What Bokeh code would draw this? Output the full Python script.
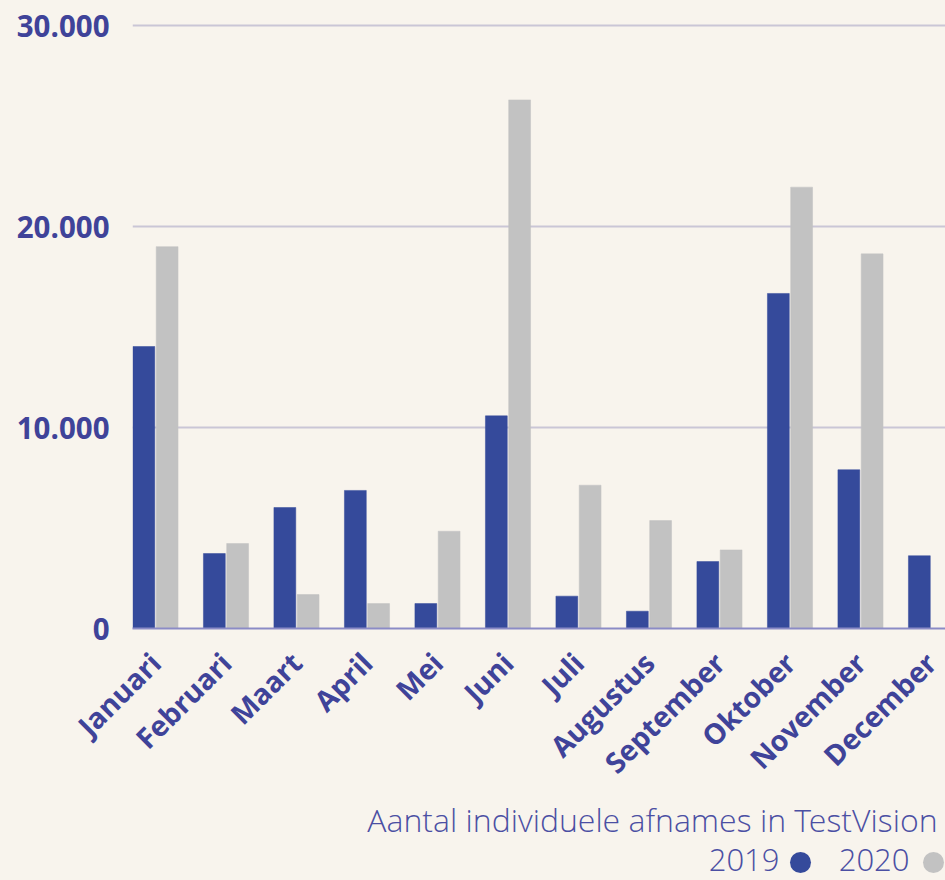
import math
from bokeh.plotting import figure
from bokeh.layouts import column
from bokeh.models import ColumnDataSource, Range1d, FixedTicker
from bokeh.transform import dodge
from bokeh.embed import file_html
from bokeh.resources import INLINE
from bokeh.core.properties import value

months = ["Januari", "Februari", "Maart", "April", "Mei", "Juni", "Juli",
          "Augustus", "September", "Oktober", "November", "December"]
y2019 = [14030, 3730, 6020, 6870, 1240, 10580, 1610, 860, 3330, 16670, 7900, 3620]
y2020 = [19000, 4230, 1690, 1240, 4840, 26300, 7130, 5370, 3910, 21960, 18640, 0]
ytick_values = [0, 10000, 20000, 30000]
ytick_labels = ["0", "10.000", "20.000", "30.000"]
title_text = "Aantal individuele afnames in TestVision"
legend_labels = ["2019", "2020"]

BG = "#f8f4ed"
BLUE = "#354a9b"
GREY = "#c2c2c2"
TEXT = "#3f4399"
TEXT_LIGHT = "#4b4fa3"

W = 945
H1 = 797
H2 = 83
FRAME_L, FRAME_T, FRAME_B = 132, 17, 628
PX_PER_CAT = 70.5
X0 = 0.174
X1 = X0 + (W - FRAME_L) / PX_PER_CAT
Y1 = 30400
BASELINE_FIX = 13  # text glyph baseline compensation (px)

xpos = [i + 0.5 for i in range(len(months))]
src = ColumnDataSource(dict(x=xpos, y2019=y2019, y2020=y2020))

p = figure(width=W, height=H1, output_backend="svg", toolbar_location=None,
           x_range=Range1d(X0, X1), y_range=Range1d(0, Y1),
           min_border_left=FRAME_L, min_border_right=0, min_border_top=FRAME_T,
           min_border_bottom=H1 - FRAME_B,
           background_fill_color=BG, border_fill_color=BG, outline_line_color=None)

p.vbar(x=dodge("x", -0.165, range=p.x_range), top="y2019", width=0.31, source=src,
       fill_color=BLUE, line_color=BLUE, line_width=0.5)
p.vbar(x=dodge("x", 0.165, range=p.x_range), top="y2020", width=0.31, source=src,
       fill_color=GREY, line_color=GREY, line_width=0.5)

p.xgrid.grid_line_color = None
p.ygrid.grid_line_color = "#cac6d6"
p.ygrid.grid_line_width = 2
p.ygrid.ticker = FixedTicker(ticks=ytick_values)

p.yaxis.ticker = FixedTicker(ticks=ytick_values)
p.yaxis.major_label_overrides = {v: l for v, l in zip(ytick_values, ytick_labels)}
p.yaxis.axis_line_color = None
p.yaxis.major_tick_line_color = None
p.yaxis.minor_tick_line_color = None
p.yaxis.major_tick_out = 0
p.yaxis.major_label_standoff = 23
p.yaxis.major_label_text_font = "Open Sans"
p.yaxis.major_label_text_font_style = "bold"
p.yaxis.major_label_text_font_size = "29.5px"
p.yaxis.major_label_text_color = TEXT

p.xaxis.ticker = FixedTicker(ticks=xpos)
p.xaxis.major_label_overrides = {x: m for x, m in zip(xpos, months)}
p.xaxis.axis_line_color = "#8b8bc6"
p.xaxis.axis_line_width = 2
p.xaxis.major_tick_line_color = None
p.xaxis.minor_tick_line_color = None
p.xaxis.major_label_orientation = math.pi / 4
p.xaxis.major_label_standoff = 23
p.xaxis.major_label_text_font = "Open Sans"
p.xaxis.major_label_text_font_style = "bold"
p.xaxis.major_label_text_font_size = "28.5px"
p.xaxis.major_label_text_color = TEXT

# caption / legend strip: frame aligned with the chart frame, page pixel coordinates
p2 = figure(width=W, height=H2, output_backend="svg", toolbar_location=None,
            x_range=Range1d(FRAME_L, W), y_range=Range1d(H1 + H2, H1),
            x_axis_location=None, y_axis_location=None,
            min_border_left=FRAME_L, min_border_right=0, min_border_top=0,
            min_border_bottom=0, background_fill_color=BG, border_fill_color=BG,
            outline_line_color=None)
p2.grid.visible = False

lab_font = value("Open Sans Light")
p2.text(x=[937], y=[832 - BASELINE_FIX], text=[title_text], text_align="right",
        text_baseline="alphabetic", text_font=lab_font, text_font_size="32px",
        text_color=TEXT_LIGHT)
p2.text(x=[779, 909], y=[872 - BASELINE_FIX] * 2, text=legend_labels, text_align="right",
        text_baseline="alphabetic", text_font=lab_font, text_font_size="31px",
        text_color=TEXT_LIGHT)
p2.scatter(x=[800, 933], y=[862, 862], size=21, marker="circle",
           fill_color=[BLUE, GREY], line_color=None)

layout = column(p, p2, spacing=0, styles={"background-color": BG})
open("out.html", "w").write(file_html(layout, INLINE))
